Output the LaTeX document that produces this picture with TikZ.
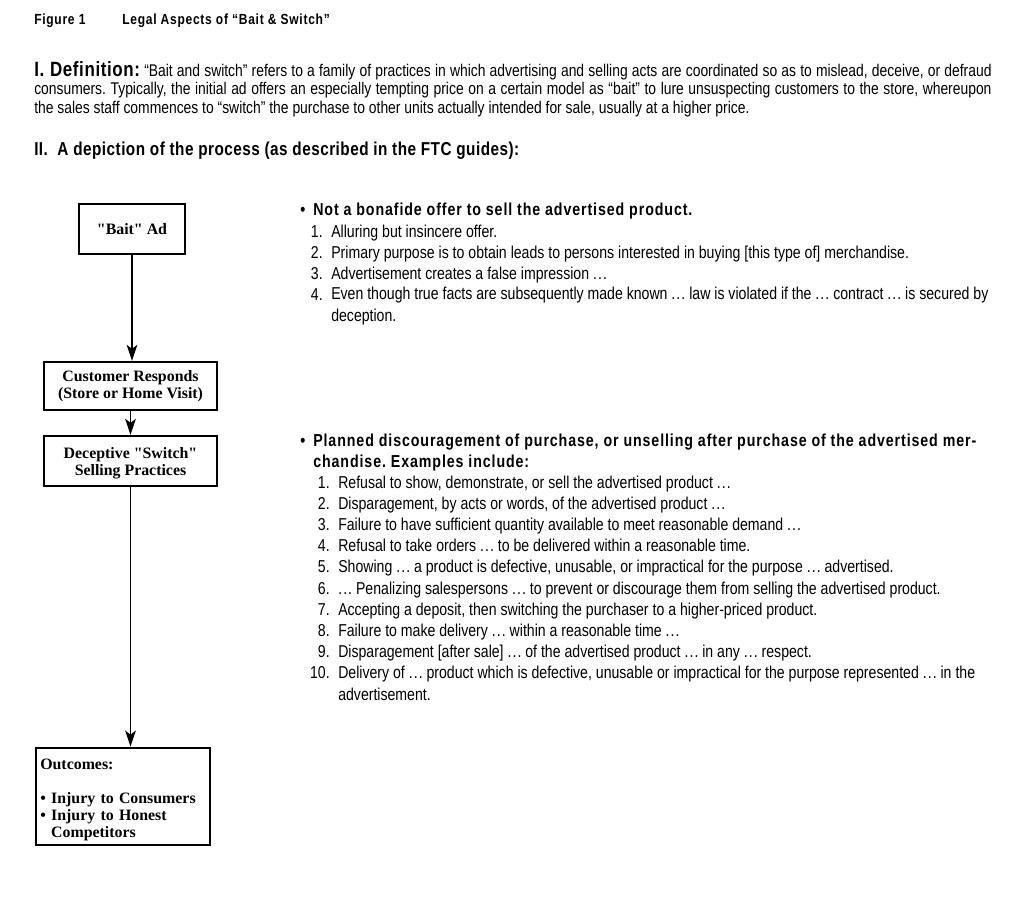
\documentclass[tikz,border=0pt]{standalone}
\usepackage{fontspec}
\setmainfont{Liberation Sans}[FakeStretch=0.82]
\newfontfamily\boxfont{Liberation Serif}
\usetikzlibrary{arrows.meta,positioning}
\newcommand{\dd}{.\kern0.8pt.\kern0.8pt.}
\frenchspacing

\begin{document}
\begin{tikzpicture}[x=0.75pt,y=-0.75pt,>={Stealth[length=12pt,width=8pt,inset=3pt]},
  flow/.style={draw,line width=1.8pt,inner sep=2pt,align=center,
    font=\boxfont\bfseries\fontsize{11.9}{12.75}\selectfont},
  link/.style={->,line width=1.25pt},
  txt/.style={inner sep=0pt,anchor=base west,align=left,
    font=\fontsize{12.9}{15.9}\selectfont},
  head/.style={txt,font=\bfseries\fontsize{13}{15.75}\selectfont\addfontfeature{LetterSpace=5.2}},
  num/.style={inner sep=0pt,anchor=base east,font=\fontsize{12.9}{15.9}\selectfont}]

\useasboundingbox (0,0) rectangle (1034,904);

% title and definition
\node[txt,font=\bfseries\fontsize{11}{12}\selectfont\addfontfeature{LetterSpace=5}] (fig) at (34,24) {Figure 1};
\node[txt,font=\bfseries\fontsize{11}{12}\selectfont\addfontfeature{LetterSpace=5}] (title) at (122,24) {Legal Aspects of “Bait \& Switch”};
\node[txt,text width=718pt,align=justify,
  font=\fontsize{12.7}{13.9}\selectfont] (defn) at (34,76)
  {{\bfseries\fontsize{15.5}{13.9}\selectfont\addfontfeature{LetterSpace=3}I. Definition:} “Bait and switch” refers to a family of practices in which advertising and selling acts are coordinated so as to mislead, deceive, or defraud\linebreak
  consumers. Typically, the initial ad offers an especially tempting price on a certain model as “bait” to lure unsuspecting customers to the store, whereupon\linebreak
  the sales staff commences to “switch” the purchase to other units actually intended for sale, usually at a higher price.};
\node[txt,font=\bfseries\fontsize{14}{16}\selectfont\addfontfeature{LetterSpace=2.6}] (part2) at (34,155)
  {II.\ \ A depiction of the process (as described in the FTC guides):};

% flow boxes
\node[flow,minimum width=79.5pt,minimum height=37.5pt] (ad) at (132,229) {"Bait" Ad};
\node[flow,minimum width=129.75pt,minimum height=36pt] (resp) at (130.5,386)
  {Customer Responds\\(Store or Home Visit)};
\node[flow,minimum width=129.75pt,minimum height=37.5pt] (switch) at (130.5,461)
  {\rule{0pt}{12pt}Deceptive "Switch"\\Selling Practices};
\node[flow,minimum width=130.5pt,minimum height=69.75pt,align=left,text width=124pt,inner sep=3pt] (out) at (123,796.5)
  {\rule{0pt}{13.5pt}Outcomes:\\[12.75pt]• Injury to Consumers\\• Injury to Honest\\\phantom{• }Competitors};

\draw[link] (ad) -- (ad |- resp.north);
\draw[link] (resp) -- (resp |- switch.north);
\draw[link] (switch) -- (switch |- out.north);

% first bullet
\node[head] (b1) at (300,215) {•};
\node[head] (h1) at (313,215) {Not a bonafide offer to sell the advertised product.};
\node[num] (n11) at (323,237) {1.};
\node[txt] (i11) at (331,237) {Alluring but insincere offer.};
\node[num] (n12) at (323,258) {2.};
\node[txt] (i12) at (331,258) {Primary purpose is to obtain leads to persons interested in buying [this type of] merchandise.};
\node[num] (n13) at (323,279) {3.};
\node[txt] (i13) at (331,279) {Advertisement creates a false impression \dd};
\node[num] (n14) at (323,300) {4.};
\node[txt] (i14) at (331,321) {Even though true facts are subsequently made known \dd{} law is violated if the \dd{} contract \dd{} is secured by\\deception.};

% second bullet
\node[head] (b2) at (300,446) {•};
\node[head] (h2) at (313,467) {Planned discouragement of purchase, or unselling after purchase of the advertised mer-\\chandise. Examples include:};
\node[num] (n21) at (330,488) {1.};
\node[txt] (i21) at (338,488) {Refusal to show, demonstrate, or sell the advertised product \dd};
\node[num] (n22) at (330,509.2) {2.};
\node[txt] (i22) at (338,509.2) {Disparagement, by acts or words, of the advertised product \dd};
\node[num] (n23) at (330,530.4) {3.};
\node[txt] (i23) at (338,530.4) {Failure to have sufficient quantity available to meet reasonable demand \dd};
\node[num] (n24) at (330,551.6) {4.};
\node[txt] (i24) at (338,551.6) {Refusal to take orders \dd{} to be delivered within a reasonable time.};
\node[num] (n25) at (330,572.8) {5.};
\node[txt] (i25) at (338,572.8) {Showing \dd{} a product is defective, unusable, or impractical for the purpose \dd{} advertised.};
\node[num] (n26) at (330,594) {6.};
\node[txt] (i26) at (338,594) {\dd{} Penalizing salespersons \dd{} to prevent or discourage them from selling the advertised product.};
\node[num] (n27) at (330,615.2) {7.};
\node[txt] (i27) at (338,615.2) {Accepting a deposit, then switching the purchaser to a higher-priced product.};
\node[num] (n28) at (330,636.4) {8.};
\node[txt] (i28) at (338,636.4) {Failure to make delivery \dd{} within a reasonable time \dd};
\node[num] (n29) at (330,657.6) {9.};
\node[txt] (i29) at (338,657.6) {Disparagement [after sale] \dd{} of the advertised product \dd{} in any \dd{} respect.};
\node[num] (n210) at (330,678.8) {10.};
\node[txt] (i210) at (338,700) {Delivery of \dd{} product which is defective, unusable or impractical for the purpose represented \dd{} in the\\advertisement.};

\end{tikzpicture}
\end{document}
